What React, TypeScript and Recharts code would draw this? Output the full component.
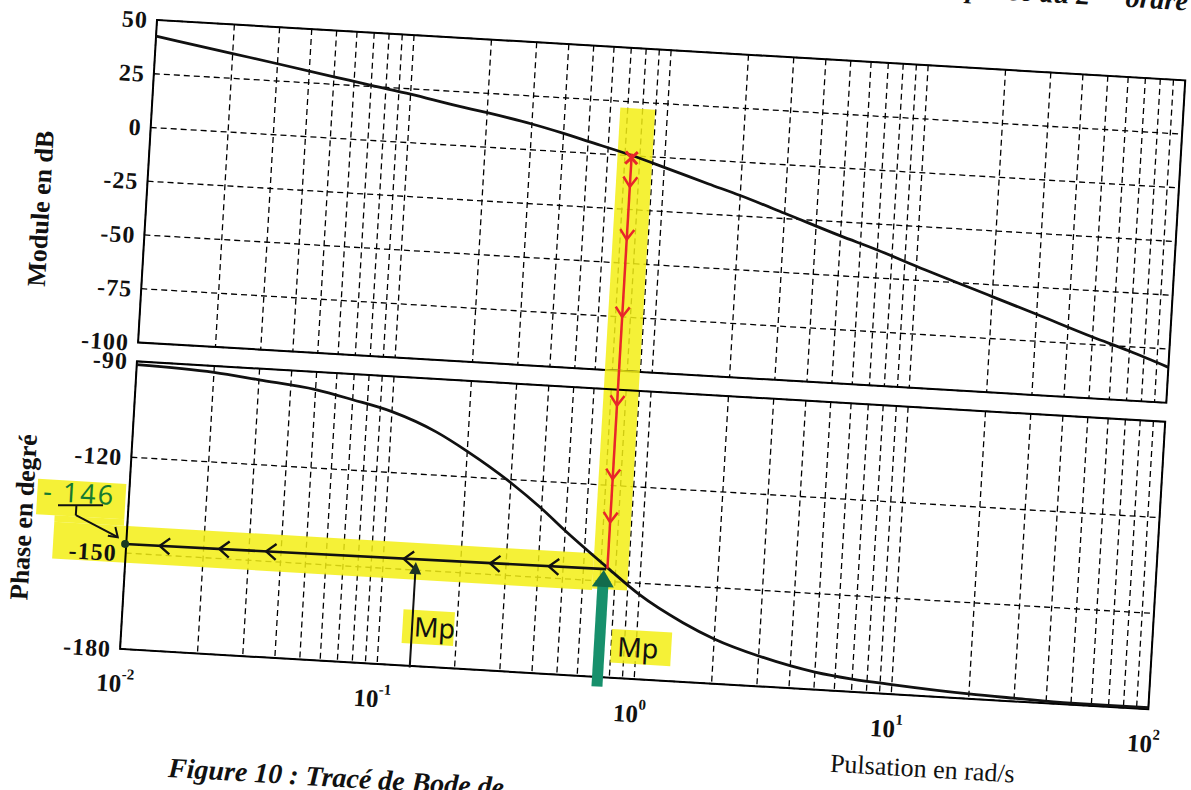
import React from 'react';
import {
  LineChart,
  Line,
  XAxis,
  YAxis,
  CartesianGrid,
  ReferenceArea,
  ReferenceLine,
  ReferenceDot,
} from 'recharts';

// values
const pulsation = [0.01, 0.02, 0.03, 0.05, 0.07, 0.1, 0.15, 0.2, 0.3, 0.4, 0.5, 0.75, 1, 1.5, 2, 3, 5, 7, 10, 20, 30, 50, 70, 100];
const moduleDb = [42.5, 36.5, 33, 28.5, 25.5, 22.5, 18.5, 16, 12, 8.5, 5.5, 0, -4.5, -11, -15.5, -22.5, -31.5, -37, -43.5, -55.5, -62.5, -71.5, -77, -83.5];
const phaseDeg = [-91, -92, -93.5, -95.5, -98, -101, -106.5, -112, -121, -128.5, -135, -146, -153.5, -161.5, -166, -170.5, -174.5, -176, -177, -178.5, -179, -179.5, -179.5, -179.5];

const gridTicks = [
  0.01, 0.02, 0.03, 0.04, 0.05, 0.06, 0.07, 0.08, 0.09,
  0.1, 0.2, 0.3, 0.4, 0.5, 0.6, 0.7, 0.8, 0.9,
  1, 2, 3, 4, 5, 6, 7, 8, 9,
  10, 20, 30, 40, 50, 60, 70, 80, 90, 100,
];
const decadeTicks = [0.01, 0.1, 1, 10, 100];
const decadeExponents = ['-2', '-1', '0', '1', '2'];
const moduleTicks = [50, 25, 0, -25, -50, -75, -100];
const phaseTicks = [-90, -120, -150, -180];

// hand-drawn annotations (highlighter, pen)
const wCross = 0.743;
const phaseCross = -146;
const redChevronsDb = [-14.5, -39, -75];
const redChevronsDeg = [-95, -118, -131.5];
const blackChevronsW = [0.0135, 0.023, 0.035, 0.12, 0.26, 0.44];
const blackChevronsDeg = [-147.1, -147, -146.9, -146.7, -146.5, -146.4];
const wArrowMp = 0.134;
const wArrowGreen = 0.72;

const magData = pulsation.map((w, i) => ({ w, v: moduleDb[i] }));
const phaseData = pulsation.map((w, i) => ({ w, v: phaseDeg[i] }));

const serif = "'Liberation Serif', 'Times New Roman', serif";
const hand = "'Noto Sans', 'DejaVu Sans', sans-serif";
const YELLOW = '#f3ef14';
const RED = '#e8262a';
const TEAL = '#17906c';

const yTick = { fontFamily: serif, fontSize: 24, fontWeight: 'bold', fill: '#111', letterSpacing: 1 };

const DecadeTick = (props: any) => {
  const { x, y, payload } = props;
  const i = decadeTicks.indexOf(payload.value);
  if (i < 0) return <g />;
  return (
    <text x={x - 3} y={y + 43} textAnchor="middle" fontFamily={serif} fontSize={25} fontWeight="bold" fill="#111">
      10
      <tspan dy={-13} fontSize={15}>{decadeExponents[i]}</tspan>
    </text>
  );
};
const NoTick = () => <g />;

const chevronDown = (p: any) => (
  <path d={`M${p.cx - 7},${p.cy - 10}L${p.cx},${p.cy}L${p.cx + 7},${p.cy - 10}`} stroke={RED} strokeWidth={2.5} fill="none" />
);
const chevronLeft = (p: any) => (
  <path d={`M${p.cx + 10},${p.cy - 8}L${p.cx},${p.cy}L${p.cx + 10},${p.cy + 8}`} stroke="#111" strokeWidth={2.4} fill="none" />
);
const redCross = (p: any) => (
  <path d={`M${p.cx - 6},${p.cy - 6}L${p.cx + 6},${p.cy + 6}M${p.cx + 6},${p.cy - 6}L${p.cx - 6},${p.cy + 6}`} stroke={RED} strokeWidth={3} />
);
const arrowHead = (color: string, w: number, h: number) => (p: any) => (
  <path d={`M${p.cx},${p.cy}L${p.cx - w},${p.cy + h}L${p.cx + w},${p.cy + h}Z`} fill={color} />
);
const slantHead = (p: any) => (
  <path d={`M${p.cx - 10},${p.cy - 1}L${p.cx},${p.cy}L${p.cx - 3},${p.cy - 10}`} stroke="#111" strokeWidth={2} fill="none" />
);
const handText = (txt: string, color: string, size: number, spacing = 0) => (p: any) => (
  <text x={p.cx} y={p.cy} textAnchor="middle" dominantBaseline="central" fontFamily={hand} fontSize={size}
    letterSpacing={spacing} fill={color}>
    {txt}
  </text>
);
const blackDot = (p: any) => <circle cx={p.cx} cy={p.cy} r={4} fill="#1a3a22" />;

const margin = { top: 20, right: 13, left: 97, bottom: 14 };
const gridStyle = { strokeDasharray: '6 4', stroke: '#000', strokeWidth: 1.3 };

const BodeModule = () => (
  <LineChart width={1200} height={358} data={magData} margin={margin}>
    <CartesianGrid {...gridStyle} />
    <XAxis dataKey="w" type="number" scale="log" domain={[0.01, 100]} ticks={gridTicks} interval={0}
      allowDataOverflow tick={<NoTick />} tickLine={false} axisLine={false} height={1} />
    <YAxis type="number" domain={[-100, 50]} ticks={moduleTicks} interval={0} width={60}
      tick={yTick} tickLine={false} axisLine={false} tickMargin={3} />
    <ReferenceArea x1={0.655} x2={0.895} y1={22} y2={-100} fill={YELLOW} fillOpacity={0.85} stroke="none" ifOverflow="visible" />
    <ReferenceArea x1={0.01} x2={100} y1={-100} y2={50} fill="none" stroke="#000" strokeWidth={2} />
    <Line type="monotone" dataKey="v" stroke="#111" strokeWidth={2.8} dot={false} isAnimationActive={false} />
    <ReferenceLine segment={[{ x: wCross, y: 1 }, { x: wCross, y: -101 }]} stroke={RED} strokeWidth={2.5} ifOverflow="visible" />
    <ReferenceDot x={wCross} y={-1} r={6} shape={redCross} ifOverflow="visible" />
    {redChevronsDb.map((v) => (
      <ReferenceDot key={v} x={wCross} y={v} r={7} shape={chevronDown} />
    ))}
  </LineChart>
);

const BodePhase = () => (
  <LineChart width={1200} height={370} data={phaseData} margin={{ ...margin, bottom: 2 }}>
    <CartesianGrid {...gridStyle} />
    <XAxis dataKey="w" type="number" scale="log" domain={[0.01, 100]} ticks={gridTicks} interval={0}
      allowDataOverflow tick={<DecadeTick />} tickLine={false} tickSize={0} tickMargin={0} axisLine={false} height={60} />
    <YAxis type="number" domain={[-180, -90]} ticks={phaseTicks} interval={0} width={60}
      tick={yTick} tickLine={false} axisLine={false} tickMargin={3} />
    {/* highlighter */}
    <ReferenceArea x1={0.655} x2={0.895} y1={-83.5} y2={-152.5} fill={YELLOW} fillOpacity={0.85} stroke="none" ifOverflow="visible" />
    <ReferenceArea x1={0.0052} x2={0.655} y1={-141.5} y2={-153} fill={YELLOW} fillOpacity={0.85} stroke="none" ifOverflow="visible" />
    <ReferenceArea x1={0.0052} x2={0.0097} y1={-139.5} y2={-141.5} fill={YELLOW} fillOpacity={0.85} stroke="none" ifOverflow="visible" />
    <ReferenceArea x1={0.0044} x2={0.0097} y1={-128.4} y2={-139.5} fill={YELLOW} fillOpacity={0.85} stroke="none" ifOverflow="visible" />
    <ReferenceArea x1={0.123} x2={0.195} y1={-162.4} y2={-173} fill={YELLOW} fillOpacity={0.85} stroke="none" />
    <ReferenceArea x1={0.8} x2={1.37} y1={-164.8} y2={-175.3} fill={YELLOW} fillOpacity={0.85} stroke="none" />
    <ReferenceArea x1={0.01} x2={100} y1={-180} y2={-90} fill="none" stroke="#000" strokeWidth={2} />
    <Line type="monotone" dataKey="v" stroke="#111" strokeWidth={2.8} dot={false} isAnimationActive={false} />
    {/* pen */}
    <ReferenceLine segment={[{ x: wCross, y: -83.5 }, { x: wCross, y: phaseCross }]} stroke={RED} strokeWidth={2.5} ifOverflow="visible" />
    {redChevronsDeg.map((v) => (
      <ReferenceDot key={v} x={wCross} y={v} r={7} shape={chevronDown} />
    ))}
    <ReferenceLine segment={[{ x: 0.0099, y: -147.2 }, { x: 0.735, y: -146.2 }]} stroke="#111" strokeWidth={2.6} ifOverflow="visible" />
    {blackChevronsW.map((w, i) => (
      <ReferenceDot key={w} x={w} y={blackChevronsDeg[i]} r={7} shape={chevronLeft} />
    ))}
    <ReferenceDot x={0.0099} y={-147.2} r={4} shape={blackDot} ifOverflow="visible" />
    <ReferenceLine segment={[{ x: wArrowMp, y: -180.5 }, { x: wArrowMp, y: -150 }]} stroke="#111" strokeWidth={2} ifOverflow="visible" />
    <ReferenceDot x={wArrowMp} y={-147.5} r={6} shape={arrowHead('#1d3324', 6, 12)} />
    <ReferenceLine segment={[{ x: wArrowGreen, y: -183 }, { x: wArrowGreen, y: -151 }]} stroke={TEAL} strokeWidth={11} ifOverflow="visible" />
    <ReferenceDot x={wArrowGreen} y={-146.5} r={10} shape={arrowHead('#126b4c', 11, 17)} />
    <ReferenceDot x={0.164} y={-167.4} r={1} shape={handText('Mp', '#111', 27)} />
    <ReferenceDot x={1.016} y={-169.9} r={1} shape={handText('Mp', '#111', 27)} />
    {/* "-146" note with its arrow */}
    <ReferenceDot x={0.0064} y={-131.9} r={1} shape={handText('- 146', '#167a30', 27, 2)} ifOverflow="visible" />
    <ReferenceLine segment={[{ x: 0.00533, y: -136.3 }, { x: 0.00797, y: -135.5 }]} stroke="#111" strokeWidth={2} ifOverflow="visible" />
    <ReferenceLine segment={[{ x: 0.00628, y: -136 }, { x: 0.00628, y: -139.1 }]} stroke="#111" strokeWidth={2} ifOverflow="visible" />
    <ReferenceLine segment={[{ x: 0.00628, y: -139.1 }, { x: 0.00924, y: -145.2 }]} stroke="#111" strokeWidth={2} ifOverflow="visible" />
    <ReferenceDot x={0.00924} y={-145.2} r={5} shape={slantHead} ifOverflow="visible" />
  </LineChart>
);

export default function App() {
  return (
    <div style={{ position: 'absolute', left: 0, top: 0, width: 1191, height: 790, overflow: 'hidden', background: '#fff' }}>
      <div style={{ position: 'absolute', left: 0, top: 0, width: 1200, height: 800, transform: 'rotate(3.36deg)', transformOrigin: '157px 20px' }}>
        <div style={{ position: 'absolute', left: 0, top: 0 }}>
          <BodeModule />
        </div>
        <div style={{ position: 'absolute', left: 0, top: 342 }}>
          <BodePhase />
        </div>
        <svg width={1200} height={800} style={{ position: 'absolute', left: 0, top: 0, overflow: 'visible', pointerEvents: 'none' }}>
          <text x={52} y={215} transform="rotate(-90 52 215)" textAnchor="middle" dominantBaseline="central"
            fontFamily={serif} fontSize={26} fontWeight="bold" fill="#111">Module en dB</text>
          <text x={53} y={524} transform="rotate(-90 53 524)" textAnchor="middle" dominantBaseline="central"
            fontFamily={serif} fontSize={26} fontWeight="bold" fill="#111">Phase en degré</text>
          <text x={965} y={731} textAnchor="middle" fontFamily={serif} fontSize={26} fill="#111">Pulsation en rad/s</text>
          <text x={212} y={775} fontFamily={serif} fontSize={28} fontWeight="bold" fontStyle="italic" fill="#111">
            Figure 10 : Tracé de Bode de
          </text>
          <text x={1185} y={-50} textAnchor="end" fontFamily={serif} fontSize={28} fontWeight="bold" fontStyle="italic" fill="#111">
            phase du 2<tspan dy={-11} fontSize={17}>ème</tspan><tspan dy={11}> ordre</tspan>
          </text>
        </svg>
      </div>
    </div>
  );
}
